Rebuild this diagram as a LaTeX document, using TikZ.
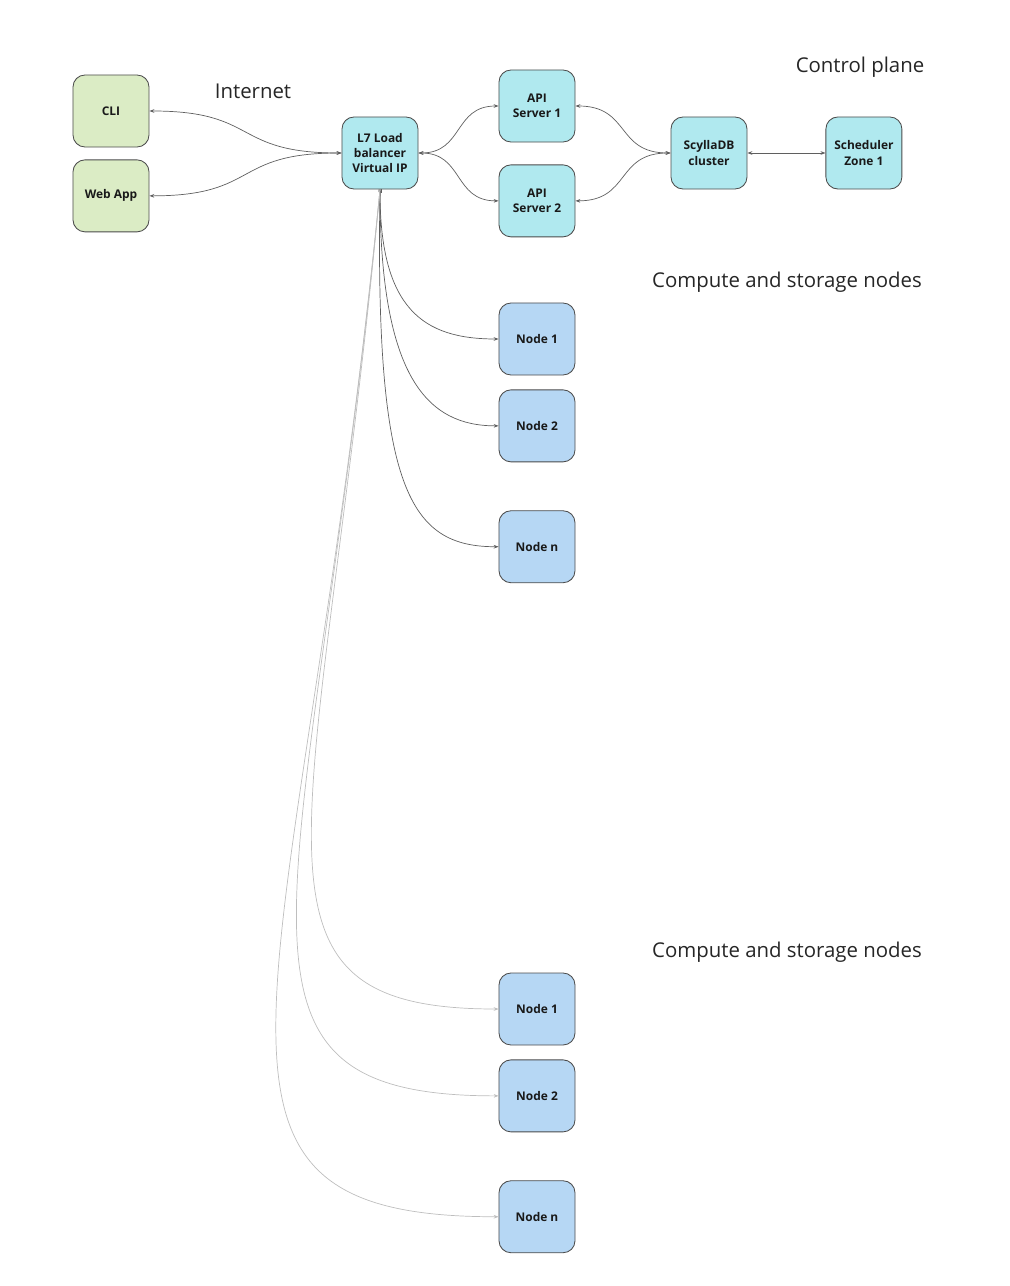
\documentclass[tikz,border=0pt]{standalone}
\usepackage{fontspec}
\setmainfont{Open Sans}
\usetikzlibrary{arrows.meta,positioning}

\definecolor{clientgreen}{RGB}{219,236,197}
\definecolor{planecyan}{RGB}{176,233,239}
\definecolor{workerblue}{RGB}{182,215,244}
\definecolor{linkdark}{RGB}{95,95,95}
\definecolor{linklight}{RGB}{190,190,190}

\begin{document}
\begin{tikzpicture}[x=0.025cm,y=-0.025cm,>={Stealth[length=3.5pt,width=2.6pt]},
                    line width=0.6pt]
\tikzstyle{box}=[draw=black!70,rounded corners=0.3cm,minimum width=1.9cm,minimum height=1.8cm,
                 align=center,font=\fontsize{8.5}{11}\selectfont\bfseries,text=black!90]
\tikzstyle{client}=[box,fill=clientgreen]
\tikzstyle{plane}=[box,fill=planecyan]
\tikzstyle{worker}=[box,fill=workerblue]
\tikzstyle{title}=[font=\fontsize{14.5}{17}\selectfont,text=black!85]
\tikzstyle{link}=[<->,draw=linkdark,line width=0.5pt]
\tikzstyle{down}=[{Square[length=2pt,width=2pt]}->,draw=linkdark,line width=0.5pt]
\tikzstyle{downfar}=[->,draw=linklight,line width=0.5pt]
\useasboundingbox (0,0) rectangle (1010,1286);

\node [client] (cli) at (111,111) {CLI};
\node [client] [below=0.3cm of cli] (web) {Web App};
\node [plane] (lb) at (380,153) {L7 Load\\balancer\\Virtual IP};
\node [plane] (api1) at (537,106) {API\\Server 1};
\node [plane] [below=0.55cm of api1] (api2) {API\\Server 2};
\node [plane] (db) at (709,153) {ScyllaDB\\cluster};
\node [plane] [right=1.95cm of db] (sched) {Scheduler\\Zone 1};

\node [worker] (n1) at (537,339) {Node 1};
\node [worker] [below=0.35cm of n1] (n2) {Node 2};
\node [worker] [below=1.2cm of n2] (nn) {Node n};

\node [worker] (m1) at (537,1009) {Node 1};
\node [worker] [below=0.35cm of m1] (m2) {Node 2};
\node [worker] [below=1.2cm of m2] (mn) {Node n};

\node [title] (inet) at (253,91) {Internet};
\node [title] (ctrl) at (860,67) {Control plane};
\node [title] (zone1) at (787,282) {Compute and storage nodes};
\node [title] (zone2) at (787,952) {Compute and storage nodes};

% clients and control plane
\draw [link] (lb.west) .. controls +(-110,0) and +(110,0) .. (cli.east);
\draw [link] (lb.west) .. controls +(-110,0) and +(110,0) .. (web.east);
\draw [link] (lb.east) .. controls +(45,0) and +(-45,0) .. (api1.west);
\draw [link] (lb.east) .. controls +(45,0) and +(-45,0) .. (api2.west);
\draw [link] (db.west) .. controls +(-55,0) and +(55,0) .. (api1.east);
\draw [link] (db.west) .. controls +(-55,0) and +(55,0) .. (api2.east);
\draw [link] (db) -- (sched);

% compute and storage nodes
\draw [down] (lb.south) .. controls +(0,120) and +(-75,0) .. (n1.west);
\draw [down] (lb.south) .. controls +(0,190) and +(-70,0) .. (n2.west);
\draw [down] (lb.south) .. controls +(-5,300) and +(-89,0) .. (nn.west);
\draw [downfar] (lb.south) .. controls +(-60,648) and +(-280,0) .. (m1.west);
\draw [downfar] (lb.south) .. controls +(-70,717) and +(-310,0) .. (m2.west);
\draw [downfar] (lb.south) .. controls +(-80,811) and +(-354,0) .. (mn.west);
\end{tikzpicture}
\end{document}
